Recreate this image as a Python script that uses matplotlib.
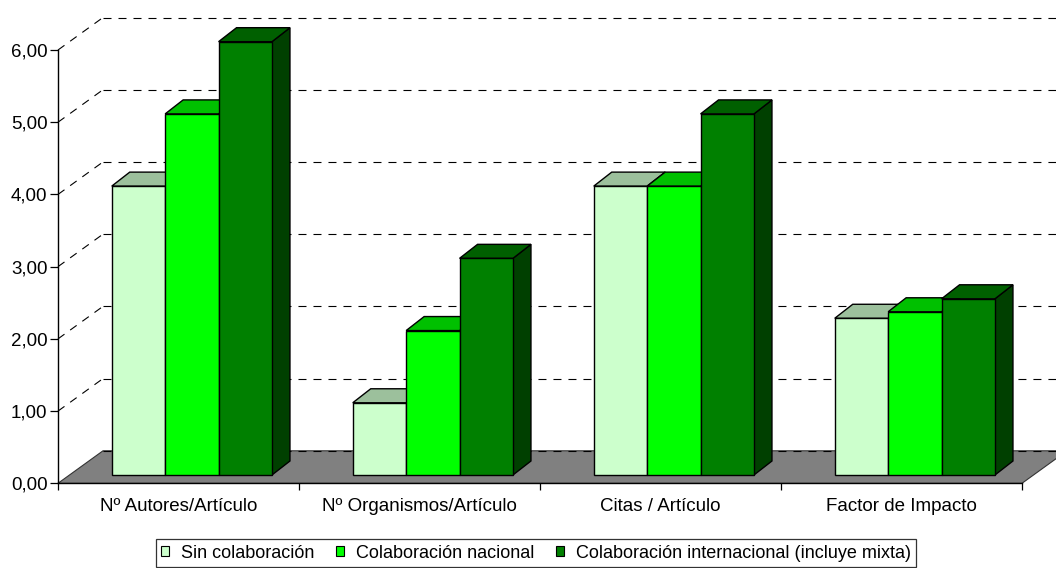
import matplotlib.pyplot as plt
from matplotlib.patches import Polygon, Patch

plt.rcParams['font.family'] = ['Liberation Sans', 'DejaVu Sans']

categories = ["Nº Autores/Artículo", "Nº Organismos/Artículo", "Citas / Artículo", "Factor de Impacto"]
series = ["Sin colaboración", "Colaboración nacional", "Colaboración internacional (incluye mixta)"]
sin_colab = [4.0, 1.0, 4.0, 2.17]
nacional = [5.0, 2.0, 4.0, 2.26]
internacional = [6.0, 3.0, 5.0, 2.44]
yticks = [0, 1, 2, 3, 4, 5, 6]

front_c = ['#CCFFCC', '#00FF00', '#008000']
top_c = ['#9CC09C', '#00C000', '#006000']
side_c = ['#668066', '#008000', '#004000']

# pseudo 3d geometry (data units)
DX, DY = 0.1867, 0.45        # full depth of the walls
BY = 0.115                   # bars sit a bit behind the front edge
BDX, BDY = 0.0747, 0.194     # bar depth
start, w = 0.223, 0.2216

fig = plt.figure(figsize=(10.56, 5.68), dpi=100)
ax = fig.add_axes([58/1056, (568-483.3)/568, 964/1056, 433.3/568])
ax.set_xlim(0, 4)
ax.set_ylim(0, 6)
for s in ['top', 'right']:
    ax.spines[s].set_visible(False)
for s in ['left', 'bottom']:
    ax.spines[s].set_linewidth(1)
    ax.spines[s].set_zorder(6)

ax.set_yticks(yticks)
ax.set_yticklabels([f"{v:.2f}".replace('.', ',') for v in yticks])
ax.tick_params(axis='y', length=6, width=0.9, pad=1.5, labelsize=13.5)
ax.set_xticks([0, 1, 2, 3, 4])
ax.set_xticklabels([])
ax.tick_params(axis='x', which='major', length=5, width=0.9)
ax.set_xticks([0.5, 1.5, 2.5, 3.5], minor=True)
ax.set_xticklabels(categories, minor=True)
ax.tick_params(axis='x', which='minor', length=0, pad=10.5, labelsize=13.5)

dash = (0, (8/1.389/0.8, 7/1.389/0.8))
# floor
floor = Polygon([(0, 0), (4, 0), (4 + DX, DY), (DX, DY)], closed=True,
                facecolor='#808080', edgecolor='#333333', lw=0.8, clip_on=False, zorder=1)
ax.add_patch(floor)
# gridlines
for v in yticks:
    ax.plot([DX, 4 + DX], [v + DY, v + DY], color='black', lw=0.8, ls=dash,
            clip_on=False, zorder=1.5 if v else 1.2)
    if v:
        ax.plot([0, DX], [v, v + DY], color='black', lw=0.8, ls=dash, clip_on=False, zorder=1.5)

data = [sin_colab, nacional, internacional]
z = 3
for i in range(len(categories)):
    for k in range(3):
        v = data[k][i]
        x0 = i + start + k * w
        x1 = x0 + w
        b = BY
        t = v + BY
        side = Polygon([(x1, b), (x1 + BDX, b + BDY), (x1 + BDX, t + BDY), (x1, t)],
                       facecolor=side_c[k], edgecolor='black', lw=1, clip_on=False, zorder=z)
        top = Polygon([(x0, t), (x0 + BDX, t + BDY), (x1 + BDX, t + BDY), (x1, t)],
                      facecolor=top_c[k], edgecolor='black', lw=1, clip_on=False, zorder=z)
        ax.add_patch(side)
        ax.add_patch(top)
        ax.bar(x0, v, width=w, bottom=b, align='edge', color=front_c[k],
               edgecolor='black', lw=1, clip_on=False, zorder=z + 0.5)
        z += 1

handles = [Patch(facecolor=front_c[k], edgecolor='black', lw=0.8) for k in range(3)]
leg = fig.legend(handles, series, loc='center', bbox_to_anchor=(536/1056, 1 - 553/568),
                 ncol=3, fontsize=13, frameon=True, fancybox=False, edgecolor='black',
                 handlelength=0.45, handleheight=0.45, handletextpad=0.65,
                 columnspacing=1.2, borderpad=0.3, borderaxespad=0)
leg.get_frame().set_linewidth(0.9)

fig.savefig('out.png', dpi=100)
